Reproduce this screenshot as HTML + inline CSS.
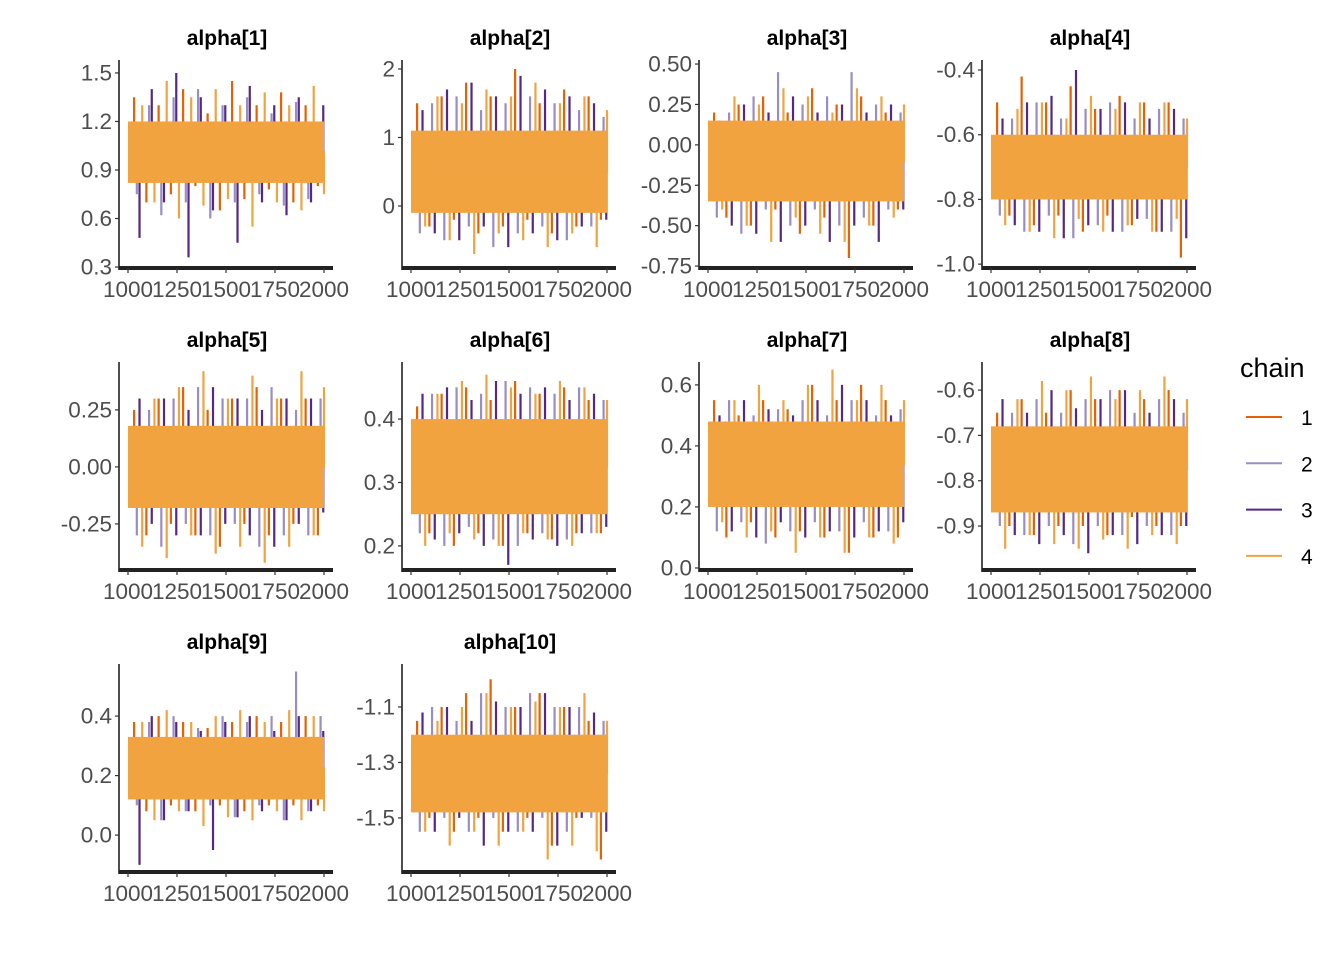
<!DOCTYPE html>
<html><head><meta charset="utf-8"><style>
body{margin:0;background:#fff}
svg{display:block;font-family:"Liberation Sans",sans-serif}
</style></head><body>
<svg id="chart" width="1344" height="960"></svg>
<script>
const titles=["alpha[1]","alpha[2]","alpha[3]","alpha[4]","alpha[5]","alpha[6]","alpha[7]","alpha[8]","alpha[9]","alpha[10]"];
const domains=[[0.294,1.58],[-0.905,2.131],[-0.762,0.525],[-1.012,-0.369],[-0.452,0.46],[0.162,0.49],[-0.0066,0.675],[-0.997,-0.538],[-0.124,0.575],[-1.695,-0.945]];
const yTicks=[[0.3,0.6,0.9,1.2,1.5],[0,1,2],[-0.75,-0.5,-0.25,0,0.25,0.5],[-1.0,-0.8,-0.6,-0.4],[-0.25,0,0.25],[0.2,0.3,0.4],[0,0.2,0.4,0.6],[-0.9,-0.8,-0.7,-0.6],[0,0.2,0.4],[-1.5,-1.3,-1.1]];
const yTickLabels=[["0.3","0.6","0.9","1.2","1.5"],["0","1","2"],["-0.75","-0.50","-0.25","0.00","0.25","0.50"],["-1.0","-0.8","-0.6","-0.4"],["-0.25","0.00","0.25"],["0.2","0.3","0.4"],["0.0","0.2","0.4","0.6"],["-0.9","-0.8","-0.7","-0.6"],["0.0","0.2","0.4"],["-1.5","-1.3","-1.1"]];
const xTicks=[1000,1250,1500,1750,2000];
const bandLo=[0.82,-0.1,-0.35,-0.8,-0.18,0.25,0.2,-0.87,0.12,-1.48];
const bandHi=[1.2,1.1,0.15,-0.6,0.18,0.4,0.48,-0.68,0.33,-1.2];
const chain1=[
[1.35,0.7,1.3,0.75,1.4,0.8,1.25,0.65,1.45,0.72,1.3,0.78,1.38,0.7,1.3,0.8],
[1.5,-0.3,1.6,-0.2,1.8,-0.4,1.6,-0.3,2.0,-0.2,1.5,-0.4,1.7,-0.3,1.6,-0.2],
[0.2,-0.45,0.25,-0.5,0.3,-0.4,0.2,-0.55,0.35,-0.45,0.25,-0.7,0.3,-0.5,0.2,-0.4],
[-0.5,-0.85,-0.42,-0.88,-0.5,-0.85,-0.45,-0.9,-0.52,-0.85,-0.48,-0.88,-0.5,-0.9,-0.5,-0.98],
[0.25,-0.3,0.3,-0.25,0.35,-0.3,0.25,-0.35,0.3,-0.25,0.35,-0.3,0.3,-0.25,0.3,-0.3],
[0.42,0.22,0.44,0.2,0.45,0.22,0.43,0.2,0.46,0.22,0.44,0.21,0.45,0.22,0.43,0.22],
[0.55,0.1,0.5,0.15,0.55,0.1,0.52,0.12,0.6,0.1,0.55,0.05,0.6,0.1,0.55,0.1],
[-0.65,-0.9,-0.62,-0.92,-0.65,-0.9,-0.6,-0.9,-0.62,-0.92,-0.6,-0.88,-0.62,-0.9,-0.6,-0.9],
[0.38,0.08,0.4,0.1,0.38,0.08,0.36,0.1,0.38,0.08,0.4,0.1,0.38,0.1,0.4,0.1],
[-1.15,-1.5,-1.1,-1.55,-1.05,-1.5,-1.0,-1.55,-1.1,-1.5,-1.05,-1.6,-1.1,-1.5,-1.15,-1.65]];
const chain2=[
[0.75,1.3,0.62,1.35,0.7,1.4,0.6,1.3,0.7,1.35,0.75,1.25,0.68,1.32,0.72,1.2],
[-0.4,1.5,-0.5,1.6,-0.3,1.4,-0.6,1.5,-0.4,1.6,-0.3,1.5,-0.5,1.4,-0.3,1.3],
[-0.45,0.2,-0.55,0.3,-0.4,0.45,-0.5,0.25,-0.4,0.3,-0.5,0.45,-0.45,0.25,-0.4,0.2],
[-0.85,-0.55,-0.9,-0.5,-0.85,-0.55,-0.92,-0.52,-0.88,-0.5,-0.9,-0.55,-0.86,-0.52,-0.9,-0.55],
[-0.3,0.25,-0.35,0.3,-0.25,0.35,-0.3,0.3,-0.25,0.3,-0.35,0.35,-0.3,0.25,-0.3,0.3],
[0.22,0.44,0.2,0.45,0.23,0.44,0.21,0.46,0.2,0.45,0.22,0.44,0.21,0.45,0.22,0.43],
[0.12,0.55,0.15,0.5,0.08,0.52,0.12,0.55,0.15,0.5,0.12,0.55,0.15,0.5,0.12,0.52],
[-0.9,-0.65,-0.92,-0.62,-0.9,-0.65,-0.94,-0.62,-0.9,-0.6,-0.92,-0.65,-0.9,-0.62,-0.92,-0.65],
[0.1,0.38,0.05,0.4,0.08,0.36,0.1,0.4,0.06,0.38,0.1,0.4,0.05,0.55,0.08,0.4],
[-1.55,-1.1,-1.5,-1.15,-1.55,-1.05,-1.5,-1.1,-1.55,-1.05,-1.5,-1.1,-1.55,-1.1,-1.5,-1.15]];
const chain3=[
[0.48,1.4,0.7,1.5,0.36,1.35,0.65,1.3,0.45,1.42,0.7,1.3,0.62,1.35,0.7,1.3],
[1.4,-0.4,1.7,-0.5,1.8,-0.3,1.6,-0.6,1.9,-0.4,1.7,-0.5,1.6,-0.3,1.5,-0.2],
[0.15,-0.5,0.25,-0.55,0.2,-0.6,0.3,-0.5,0.2,-0.6,0.25,-0.5,0.2,-0.6,0.25,-0.4],
[-0.55,-0.88,-0.5,-0.9,-0.48,-0.92,-0.4,-0.88,-0.52,-0.9,-0.5,-0.86,-0.55,-0.9,-0.52,-0.92],
[0.3,-0.25,0.3,-0.3,0.25,-0.3,0.35,-0.25,0.3,-0.3,0.25,-0.35,0.3,-0.25,0.3,-0.2],
[0.44,0.21,0.45,0.22,0.43,0.2,0.46,0.17,0.44,0.21,0.45,0.2,0.43,0.22,0.44,0.23],
[0.5,0.12,0.55,0.1,0.52,0.15,0.5,0.1,0.55,0.12,0.6,0.1,0.55,0.12,0.5,0.15],
[-0.62,-0.92,-0.65,-0.94,-0.6,-0.92,-0.64,-0.96,-0.62,-0.92,-0.6,-0.94,-0.65,-0.92,-0.62,-0.9],
[-0.1,0.4,0.05,0.38,0.08,0.35,-0.05,0.38,0.06,0.4,0.08,0.35,0.05,0.4,0.08,0.35],
[-1.12,-1.55,-1.1,-1.5,-1.15,-1.6,-1.08,-1.55,-1.1,-1.55,-1.05,-1.6,-1.1,-1.5,-1.12,-1.55]];
const chain4=[
[1.3,0.7,1.45,0.6,1.35,0.68,1.4,0.72,1.3,0.55,1.38,0.7,1.3,0.65,1.42,0.75],
[-0.3,1.6,-0.5,1.5,-0.7,1.7,-0.4,1.6,-0.5,1.8,-0.6,1.5,-0.4,1.6,-0.6,1.4],
[-0.4,0.3,-0.5,0.25,-0.6,0.35,-0.45,0.3,-0.55,0.2,-0.6,0.35,-0.5,0.3,-0.45,0.25],
[-0.88,-0.52,-0.9,-0.5,-0.92,-0.55,-0.86,-0.48,-0.9,-0.52,-0.88,-0.5,-0.9,-0.5,-0.86,-0.55],
[-0.35,0.3,-0.4,0.35,-0.3,0.42,-0.38,0.3,-0.35,0.4,-0.42,0.3,-0.35,0.42,-0.3,0.35],
[0.2,0.44,0.22,0.46,0.21,0.47,0.2,0.45,0.22,0.44,0.21,0.46,0.2,0.45,0.22,0.43],
[0.15,0.55,0.1,0.6,0.12,0.55,0.05,0.6,0.1,0.65,0.05,0.55,0.1,0.6,0.08,0.55],
[-0.95,-0.62,-0.92,-0.58,-0.94,-0.6,-0.95,-0.57,-0.93,-0.62,-0.95,-0.6,-0.92,-0.57,-0.94,-0.62],
[0.38,0.05,0.42,0.08,0.38,0.03,0.4,0.06,0.42,0.05,0.38,0.08,0.42,0.05,0.4,0.08],
[-1.55,-1.15,-1.6,-1.1,-1.55,-1.05,-1.6,-1.1,-1.55,-1.08,-1.65,-1.1,-1.6,-1.05,-1.62,-1.15]];
const chainNames=["1","2","3","4"];
const chainColors=["#e66101","#998ec3","#542788","#f1a340"];

const NS="http://www.w3.org/2000/svg";
const svg=document.getElementById("chart");
function mk(tag,attrs,parent){const e=document.createElementNS(NS,tag);for(const k in attrs)e.setAttribute(k,attrs[k]);(parent||svg).appendChild(e);return e;}
const colLeft=[119,402,699,982];
const rowAxis=[268,570,872];
const plotH=208;
const chainsAll=[chain1,chain2,chain3,chain4];
titles.forEach((t,p)=>{
  const L=colLeft[p%4], A=rowAxis[Math.floor(p/4)], T=A-plotH;
  const x0=L+9, x1=L+205;
  const xs=v=>x0+(v-1000)/1000*(x1-x0);
  const d=domains[p];
  const ys=v=>A-(v-d[0])/(d[1]-d[0])*plotH;
  const g=mk("g",{});
  
  
  const tt=mk("text",{x:L+108,y:T-15,"text-anchor":"middle","font-size":"21","font-weight":"bold",fill:"#000"},g);
  tt.textContent=t;
  
  
  const mid=ys((bandLo[p]+bandHi[p])/2);
  chainsAll.forEach((ch,c)=>{
    if(c===3){
      const band=mk("rect",{x:x0,y:ys(bandHi[p]),width:x1-x0,height:ys(bandLo[p])-ys(bandHi[p]),fill:chainColors[3]},g);
      
      
    }
    const vals=ch[p];const n=vals.length;
    let dd="";
    vals.forEach((v,i)=>{const it=1000+(i+0.5+c*0.22)/n*1000;const x=xs(Math.min(it,2000));
      dd+=(i===0?"M"+x+" "+mid:"H"+x)+" V"+ys(v)+" V"+mid+" ";});
    const path=mk("path",{d:dd,fill:"none",stroke:chainColors[c],"stroke-width":"2.2"},g);
    
    
  });
  const ya=mk("line",{x1:L,x2:L,y1:T,y2:A+2,stroke:"#222","stroke-width":"1.6"},g);
  
  
  const xa=mk("line",{x1:L,x2:L+214,y1:A,y2:A,stroke:"#222","stroke-width":"4"},g);
  
  
  yTicks[p].forEach((v,i)=>{
    const y=ys(v);
    mk("line",{x1:L-4,x2:L,y1:y,y2:y,stroke:"#333","stroke-width":"1.2"},g);
    const tl=mk("text",{x:L-7,y:y+7.5,"text-anchor":"end","font-size":"22.5",fill:"#4d4d4d"},g);
    tl.textContent=yTickLabels[p][i];
    
    
  });
  xTicks.forEach(v=>{
    const x=xs(v);
    mk("line",{x1:x,x2:x,y1:A,y2:A+5,stroke:"#333","stroke-width":"1.2"},g);
    const tl=mk("text",{x:x,y:A+29,"text-anchor":"middle","font-size":"22.5",fill:"#4d4d4d"},g);
    tl.textContent=String(v);
    
    
  });
});
const lg=mk("g",{});


const lt=mk("text",{x:1240,y:377,"font-size":"27",fill:"#000"},lg);
lt.textContent="chain";


chainNames.forEach((n,i)=>{
  const y=417+i*46.3;
  const ln=mk("line",{x1:1246,x2:1282,y1:y,y2:y,stroke:chainColors[i],"stroke-width":"2"},lg);
  
  
  const tx=mk("text",{x:1301,y:y+8,"font-size":"21",fill:"#000"},lg);
  tx.textContent=n;
  
  
});
</script>
</body></html>
